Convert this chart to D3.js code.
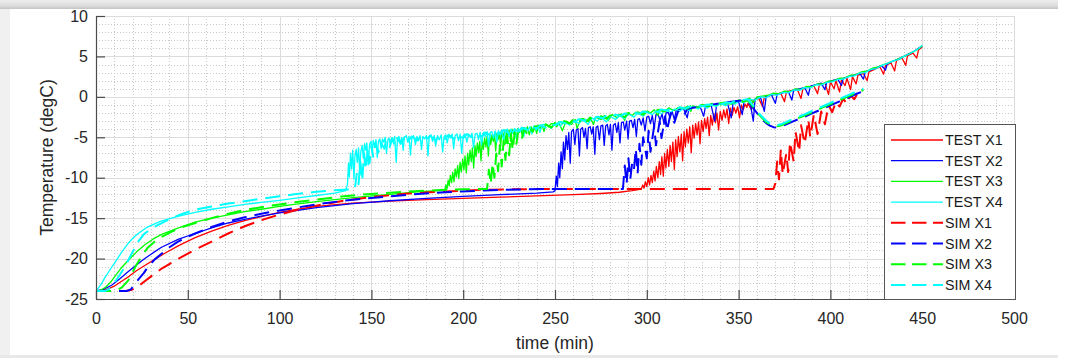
<!DOCTYPE html>
<html><head><meta charset="utf-8">
<script src="https://cdn.jsdelivr.net/npm/d3@7"></script>
<style>body{margin:0;background:#fff;overflow:hidden}svg{display:block;font-family:"Liberation Sans",Arial,Helvetica,sans-serif}</style>
</head><body>
<svg id="chart" width="1070" height="358"></svg>
<script>
// ---------------- DATA ----------------
const xTickValues = [0,50,100,150,200,250,300,350,400,450,500];
const yTickValues = [-25,-20,-15,-10,-5,0,5,10];
const seriesNames = ["TEST X1","TEST X2","TEST X3","TEST X4","SIM X1","SIM X2","SIM X3","SIM X4"];
const xLabel = "time (min)";
const yLabel = "Temperature (degC)";

const testX1 = [[0,-24],[3,-23.95],[6,-23.8],[10,-23.4],[14,-22.8],[18,-22.2],[22,-21.5],[27,-20.8],[32,-20.1],[37,-19.4],[45,-18.4],[54,-17.4],[63,-16.6],[72,-15.9],[81,-15.3],[90,-14.8],[100,-14.3],[110,-13.9],[120,-13.55],[140,-13.15],[160,-12.9],[180,-12.7],[200,-12.55],[220,-12.4],[240,-12.25],[260,-12.1],[275,-11.95],[285,-11.8],[292,-11.6],[296,-11.45],
[297,-11.4],[297.8,-10.9],[298.5,-11.3],[299.2,-10.5],[300,-11.1],[300.8,-10.0],[301.5,-10.9],[302.3,-9.7],[303,-10.6],[303.8,-9.2],[304.5,-10.4],[305.2,-8.6],[306,-10.0],[306.8,-8.0],[307.5,-9.6],[308.2,-7.4],[309,-9.8],[309.7,-7.0],[310.4,-8.8],[311.2,-6.5],[312,-8.6],[312.7,-6.0],[313.4,-8.0],[314.2,-5.6],[315,-9.0],[315.7,-5.3],[316.5,-7.4],[317.2,-4.9],[318,-6.8],[318.8,-4.6],[319.5,-7.9],[320.3,-4.3],[321,-6.2],[321.8,-4.0],[322.6,-5.7],[323.4,-3.7],[324.2,-6.9],[325,-3.5],[325.8,-5.1],[326.6,-3.3],[327.4,-4.7],[328.2,-3.1],[329,-5.8],[329.8,-2.9],[330.7,-4.3],[331.5,-2.7],[332.3,-3.9],[333.1,-2.5],[334,-4.8],[334.8,-2.3],[335.7,-3.5],[336.5,-2.1],[337.4,-3.2],[338.2,-2.0],[339.1,-4.1],[340,-1.8],[341,-2.9],[341.9,-1.6],[342.8,-2.6],[343.7,-1.5],[344.6,-3.3],[345.5,-1.4],[346.5,-2.3],[347.5,-1.3],[348.5,-2.0],[349.5,-1.2],[350.5,-2.6],[351.5,-1.0],[352.5,-1.6],[353.5,-0.9],[354.5,-1.3],[355,-0.8],
[357,-1.6],[358,-0.4],[361,-0.2],[363,-1.2],[364,-0.05],[367,0.15],[370,0.3],[373,0.45],[375,-0.6],[376,0.6],[379,0.8],[382,0.9],[384,-0.2],[385,1.0],[388,1.2],[391,1.35],[393,0.4],[394,1.5],[397,1.7],[399,0.3],[400,1.85],[402,1.0],[403,2.0],[405,0.6],[406,2.1],[408,1.4],[409,2.3],[411,0.9],[412,2.5],[414,1.6],[415,2.7],[418,2.9],[420,2.0],[421,3.1],[424,3.4],[427,3.7],[429,2.8],[430,3.9],[433,4.2],[435,3.2],[436,4.5],[439,4.8],[441,3.9],[442,5.1],[445,5.4],[447,4.8],[448,5.8],[450,6.2]];

const testX2 = [[0,-24],[4,-23.8],[8.5,-23.3],[13,-22.5],[17.6,-21.6],[22,-20.8],[26.6,-20.0],[31,-19.3],[35.7,-18.6],[45,-17.6],[54,-16.9],[63,-16.2],[72,-15.6],[81,-15.15],[90,-14.75],[100,-14.35],[108,-14.1],[120,-13.7],[140,-13.2],[160,-12.85],[180,-12.55],[200,-12.3],[220,-12.1],[240,-11.9],[249,-11.75],
[250,-11.6],[250.7,-9.8],[251.3,-11.1],[252,-8.2],[252.6,-10.0],[253.3,-6.8],[254,-8.9],[254.6,-5.6],[255.3,-7.8],[256,-4.8],[256.8,-6.5],[257.5,-4.4],[258.3,-8.2],[259,-4.3],[260,-4.0],[260.8,-5.9],[261.6,-4.1],[262.5,-3.9],[263.3,-7.3],[264,-4.0],[265,-3.8],[265.8,-5.0],[266.6,-3.9],[267.5,-6.4],[268.2,-3.8],[269.2,-3.7],[270,-4.6],[270.8,-3.7],[271.7,-7.1],[272.4,-3.8],[273.3,-3.6],[274.2,-5.3],[275,-3.6],[276,-3.5],[276.8,-6.0],[277.6,-3.6],[278.5,-3.4],[279.4,-4.7],[280.2,-3.4],[281,-6.6],[281.8,-3.5],[282.8,-3.3],[283.7,-4.4],[284.5,-3.2],[285.4,-5.7],[286.2,-3.2],[287.2,-3.1],[288,-4.1],[289,-3.0],[289.8,-5.2],[290.6,-3.0],[291.6,-2.9],[292.5,-3.8],[293.4,-2.8],[294.3,-4.9],[295.1,-2.8],[296,-2.7],[297,-3.5],[298,-2.6],[299,-4.2],[300,-2.5],[301,-2.4],[302,-3.3],[303,-2.3],[304,-3.9],[305,-2.2],[306.2,-2.2],[307.2,-2.9],[308.3,-2.1],[309.4,-3.4],[310.5,-2.0],[311.6,-1.9],[312.7,-2.6],[313.8,-1.8],[315,-2.8],[316,-1.7],
[318,-1.55],[320,-1.45],[322,-2.6],[323,-1.4],[326,-1.3],[329,-1.2],[331,-2.4],[332,-1.1],[335,-1.0],[337,-3.0],[338,-0.95],[341,-0.85],[344,-0.8],[346,-2.6],[347,-0.7],[350,-0.6],[352,-2.2],[353,-0.5],[356,-0.35],[358,-3.0],[359,-0.25],[362,-0.1],[364,-1.8],[365,0.05],[368,0.2],[370,-0.8],[371,0.3],[374,0.5],[377,0.7],[379,-0.4],[380,0.85],[383,1.0],[386,1.15],[388,0.2],[389,1.3],[392,1.5],[395,1.7],[397,0.9],[398,1.8],[401,2.0],[404,2.2],[406,1.4],[407,2.3],[410,2.5],[413,2.7],[416,2.9],[418,2.2],[419,3.1],[422,3.35],[425,3.6],[428,3.85],[430,3.3],[431,4.1],[434,4.4],[437,4.7],[440,5.0],[443,5.35],[446,5.7],[450,6.3]];

const testX3 = [[0,-24],[2,-23.95],[5,-23.6],[8,-22.9],[10.3,-22.2],[14,-21.1],[17.6,-20.2],[22,-19.2],[26.6,-18.3],[31,-17.6],[35.7,-17.0],[45,-16.2],[54,-15.5],[63,-15.0],[72,-14.6],[81,-14.2],[90,-13.9],[100,-13.55],[108,-13.3],[120,-12.95],[140,-12.45],[160,-12.05],[175,-11.75],[189,-11.55],
[190,-11.6],[190.6,-10.9],[191.2,-11.4],[191.8,-10.3],[192.4,-11.0],[193,-9.7],[193.7,-10.6],[194.3,-9.3],[195,-10.5],[195.6,-8.9],[196.3,-9.9],[197,-8.5],[197.6,-10.1],[198.3,-8.1],[199,-9.3],[199.7,-7.7],[200.4,-9.0],[201,-7.3],[201.7,-9.4],[202.4,-7.0],[203,-8.4],[203.7,-6.6],[204.4,-8.0],[205,-6.3],[205.7,-8.8],[206.4,-6.0],[207,-7.4],[207.7,-5.7],[208.4,-6.9],[209,-5.5],[209.7,-7.9],[210.4,-5.3],[211,-6.5],[211.7,-5.1],[212.4,-6.2],[213,-4.9],[213.7,-7.3],[214.4,-4.8],[215,-5.9],[215.7,-4.7],[216.4,-5.5],[217,-4.6],[217.7,-6.7],[218.4,-4.5],[219,-5.3],[219.7,-4.4],[220.4,-6.1],[221,-4.4],[221.7,-5.0],[222.4,-4.3],[223,-5.8],[223.7,-4.2],[224.4,-4.8],[225,-4.1],[225.8,-5.5],[226.6,-4.0],[227.4,-4.6],[228.2,-4.0],[229,-5.2],[229.8,-3.9],[230.6,-4.4],[231.4,-3.9],[232.2,-4.9],[233,-3.8],[234,-4.3],[235,-3.7],[236,-4.7],[237,-3.7],[238,-4.1],[239,-3.6],[240,-4.5],[241,-3.5],[242,-3.9],[243,-3.5],[244,-4.3],[245,-3.4],[246.5,-3.7],[248,-3.3],
[249,-3.3],[251,-3.7],[252,-3.1],[254,-4.2],[256,-3.0],[259,-3.4],[261,-2.8],[262,-3.9],[264,-2.7],[267,-3.1],[269,-2.5],[271,-3.4],[272,-2.5],[275,-2.8],[277,-2.3],[279,-2.9],[281,-2.2],[284,-2.6],[286,-2.1],[288,-2.9],[289,-2.0],[292,-2.3],[294,-1.9],[297,-2.2],[299,-1.75],[302,-2.0],[304,-1.6],[306,-2.3],[307,-1.55],[310,-1.8],[312,-1.4],[315,-1.7],[317,-1.3],[320,-1.5],[322,-1.15],[324,-1.8],[325,-1.1],[328,-1.3],[330,-0.95],[333,-1.2],[335,-0.85],[338,-1.1],[340,-0.7],[343,-0.9],[345,-0.6],[348,-0.8],[350,-0.4],[353,-0.5],[356,-0.15],[358,-0.7],[360,0.0],[363,0.1],[366,0.2],[369,0.45],[372,0.4],[375,0.7],[378,0.65],[381,1.0],[384,0.9],[387,1.3],[390,1.25],[393,1.6],[396,1.6],[399,1.95],[402,2.0],[405,2.3],[408,2.35],[411,2.7],[414,2.75],[417,3.1],[420,3.2],[423,3.55],[426,3.7],[429,4.0],[432,4.25],[435,4.5],[438,4.8],[441,5.1],[444,5.45],[447,5.8],[450,6.3]];

const testX4 = [[0,-24],[1.5,-23.6],[3,-23.1],[5,-22.3],[7,-21.6],[10,-20.6],[14,-19.2],[17.6,-18.1],[20,-17.5],[23,-16.9],[28,-16.1],[35,-15.4],[44,-14.8],[54,-14.3],[63,-13.9],[72,-13.6],[81,-13.3],[90,-13.05],[100,-12.8],[110,-12.5],[120,-12.2],[130,-11.9],[136,-11.6],
[137,-10.8],[137.5,-8.2],[138,-9.9],[138.6,-7.0],[139.2,-8.9],[139.8,-6.6],[140.5,-10.2],[141,-7.4],[141.7,-6.5],[142.3,-8.1],[143,-6.3],[143.6,-9.3],[144.2,-6.8],[145,-6.0],[145.6,-7.6],[146.3,-5.8],[147,-6.6],[147.5,-5.7],[148.3,-8.4],[149,-5.9],[149.8,-5.5],[150.4,-6.9],[151,-5.4],[151.8,-6.1],[152.5,-5.3],[153.2,-7.5],[153.8,-5.5],[154.6,-5.2],[155.3,-6.4],[156,-5.2],[156.8,-5.6],[157.5,-5.0],[158.2,-7.0],[159,-5.3],[159.6,-5.1],[160.4,-6.0],[161.2,-5.0],[162,-5.5],[162.7,-4.9],[163.5,-8.1],[164.2,-5.2],[165,-4.9],[165.8,-5.8],[166.5,-5.0],[167.3,-6.6],[168,-5.0],[169,-4.8],[169.8,-5.6],[170.5,-4.9],[171.3,-7.2],[172,-5.1],[173,-4.8],[174,-5.9],[174.8,-4.9],[175.7,-5.4],[176.5,-4.8],[177.3,-6.5],[178,-4.9],[179,-5.2],[180,-4.8],[180.8,-7.3],[181.5,-5.0],[182.5,-4.7],[183.3,-5.5],[184.2,-4.8],[185,-6.1],[186,-4.8],[187,-5.3],[188,-4.7],[188.8,-6.8],[189.6,-4.9],[190.5,-4.7],[191.3,-5.7],[192.2,-4.7],[193,-5.1],[194,-4.6],[194.8,-6.4],[195.6,-4.8],[196.6,-4.6],[197.4,-5.4],[198.3,-4.6],[199.2,-7.0],[200,-4.8],[201,-4.6],[202,-5.6],[203,-4.6],[204,-5.0],[204.8,-4.5],[205.6,-6.3],[206.5,-4.6],[207.5,-4.5],[208.3,-5.3],[209.2,-4.4],[210,-5.9],[211,-4.4],[212,-4.9],[213,-4.3],[213.8,-6.1],[214.7,-4.4],[215.6,-4.3],[216.5,-5.1],[217.4,-4.2],[218.3,-5.6],[219.2,-4.2],[220.2,-4.7],[221,-4.1],[222,-5.4],[223,-4.1],[224,-4.0],[225,-4.9],[226,-4.0],[227,-4.5],[228,-3.9],[229,-5.2],[230,-3.9],[231,-4.3],[232,-3.8],[233,-4.9],[234,-3.8],[235.2,-4.2],[236.3,-3.7],[237.4,-4.6],[238.5,-3.6],[239.6,-4.1],[240.7,-3.6],[241.8,-4.4],[243,-3.5],[244,-3.4],
[246,-3.5],[248,-3.9],[250,-3.2],[253,-3.6],[255,-3.0],[258,-3.5],[260,-2.9],[263,-3.3],[265,-2.8],[268,-3.4],[270,-2.6],[273,-3.0],[275,-2.5],[278,-3.1],[280,-2.4],[283,-2.8],[285,-2.3],[288,-2.7],[290,-2.1],[293,-2.5],[295,-2.0],[298,-2.4],[300,-1.85],[303,-2.2],[305,-1.75],[308,-2.1],[310,-1.6],[313,-1.9],[315,-1.5],[318,-1.8],[320,-1.35],[323,-1.7],[325,-1.25],[328,-1.5],[330,-1.1],[333,-1.4],[335,-0.95],[338,-1.2],[340,-0.85],[343,-1.1],[345,-0.7],[348,-0.9],[350,-0.55],[353,-0.7],[356,-0.3],[359,-0.4],[362,0.0],[365,-0.1],[368,0.3],[371,0.2],[374,0.55],[377,0.5],[380,0.85],[383,0.8],[386,1.15],[389,1.1],[392,1.5],[395,1.45],[398,1.8],[401,1.85],[404,2.15],[407,2.2],[410,2.5],[413,2.6],[416,2.95],[419,3.0],[422,3.4],[425,3.5],[428,3.9],[431,4.1],[434,4.45],[437,4.6],[440,5.0],[443,5.3],[446,5.7],[448,5.95],[450,6.4]];

const simX1 = [[0,-24],[10,-24],[16,-24],[19,-23.9],[22,-23.6],[26,-22.9],[30,-22.2],[36,-21.2],[45,-20.0],[54,-18.9],[63,-17.9],[72,-16.9],[81,-16.0],[90,-15.25],[100,-14.55],[110,-13.95],[120,-13.45],[135,-12.85],[150,-12.4],[170,-11.95],[190,-11.7],[210,-11.5],[230,-11.42],[250,-11.4],[369,-11.4],
[370,-10.7],[371,-8.0],[372,-10.2],[373,-6.5],[374,-9.6],[376,-7.0],[377,-9.3],[378,-5.6],[380,-8.0],[381,-4.3],[383,-6.8],[384,-3.5],[386,-5.8],[388,-2.8],[389,-5.0],[391,-2.2],[393,-4.6],[395,-1.8],[397,-3.4],[399,-1.0],[401,-1.9],[403,-0.6],[405,-1.2],[407,-0.2],[409,-0.9],[411,0.2],[413,-0.3],[415,0.5],[417,0.6]];

const simX2 = [[0,-24],[10,-24],[17,-24],[19,-23.8],[21,-23.2],[23,-22.6],[26,-21.8],[28.4,-21.0],[32,-20.1],[35.7,-19.4],[40,-18.6],[44.7,-17.9],[50,-17.3],[54,-16.9],[63,-16.1],[72,-15.4],[81,-14.9],[90,-14.45],[100,-14.05],[108,-13.75],[120,-13.3],[135,-12.85],[150,-12.5],[170,-12.1],[190,-11.8],[210,-11.6],[230,-11.45],[245,-11.4],[287,-11.4],
[288,-8.5],[289,-10.8],[290,-7.6],[291,-10.2],[292,-8.2],[293,-9.0],[294,-6.4],[295,-9.5],[296,-5.8],[297,-8.4],[298,-5.0],[300,-7.6],[301,-4.2],[302,-6.8],[304,-3.6],[305,-6.0],[307,-3.0],[308,-5.1],[310,-2.4],[311,-4.2],[313,-2.0],[315,-3.2],[317,-1.8],[320,-2.4],[322,-1.5],
[325,-1.35],[328,-1.25],[331,-1.1],[334,-1.0],[337,-0.9],[340,-0.8],[343,-0.7],[346,-0.6],[349,-0.5],[352,-0.45],[355,-0.6],[357,-1.1],[359,-1.7],[361,-2.3],[363,-2.8],[365,-3.25],[367,-3.55],[369,-3.75],[371,-3.8],[373,-3.7],[376,-3.4],[380,-3.0],[385,-2.55],[390,-2.05],[395,-1.55],[400,-1.05],[405,-0.55],[410,-0.05],[414,0.35],[418,0.7]];

const simX3 = [[0,-24],[8,-24],[11,-23.95],[14,-23.6],[17.6,-22.7],[21,-21.2],[24.8,-19.7],[28,-18.7],[32,-17.9],[36,-17.3],[41,-16.7],[47,-16.1],[54,-15.6],[63,-15.0],[72,-14.45],[81,-14.0],[90,-13.65],[100,-13.3],[108,-13.05],[120,-12.7],[135,-12.3],[150,-12.0],[170,-11.7],[190,-11.5],[200,-11.42],[213,-11.4],
[214,-9.0],[215,-10.8],[216,-8.2],[217,-10.0],[218,-7.0],[219,-9.2],[220,-6.0],[221,-8.6],[222,-5.4],[223,-7.8],[224,-4.9],[225,-7.2],[226,-4.6],[227,-6.6],[228,-4.4],[229,-5.8],[230,-4.2],[232,-5.2],[233,-4.0],[235,-4.6],[236,-3.9],[238,-4.3],[239,-3.7],
[241,-3.6],[243,-4.1],[245,-3.4],[248,-3.8],[250,-3.2],[253,-3.6],[255,-3.0],[258,-3.3],[260,-2.8],[263,-3.2],[265,-2.7],[268,-3.0],[270,-2.5],[273,-2.8],[275,-2.4],[278,-2.7],[280,-2.3],[283,-2.6],[285,-2.2],[288,-2.5],[290,-2.0],[293,-2.3],[295,-1.9],[298,-2.2],[300,-1.8],[304,-2.0],[306,-1.6],[310,-1.8],[312,-1.45],[316,-1.6],[318,-1.3],[322,-1.45],[324,-1.15],[328,-1.3],[330,-1.0],[334,-1.15],[336,-0.85],[340,-1.0],[342,-0.7],[346,-0.85],[348,-0.55],[352,-0.6],[355,-0.45],
[357,-0.95],[359,-1.55],[361,-2.15],[363,-2.65],[365,-3.1],[367,-3.4],[369,-3.6],[371,-3.65],[373,-3.55],[376,-3.25],[380,-2.85],[385,-2.4],[390,-1.9],[395,-1.4],[400,-0.9],[405,-0.4],[410,0.1],[414,0.5],[418,0.85]];

const simX4 = [[0,-24],[5,-24],[7,-23.8],[10.3,-22.9],[13,-22.0],[15.8,-21.0],[19.4,-19.4],[23,-17.9],[26,-17.0],[30,-16.3],[35,-15.7],[39.3,-15.2],[46.5,-14.5],[54,-13.95],[63,-13.55],[72,-13.2],[81,-12.9],[90,-12.6],[100,-12.3],[108,-12.05],[120,-11.75],[130,-11.55],[141,-11.4],
[142,-9.5],[143,-10.8],[144,-8.0],[145,-10.4],[146,-7.0],[147,-9.0],[148,-6.4],[149,-8.2],[150,-6.0],[151,-7.4],[152,-5.8],[154,-6.8],[155,-5.6],[157,-6.4],[158,-5.4],[160,-6.2],[161,-5.2],[163,-6.0],
[164,-5.1],[166,-5.8],[168,-5.0],[170,-5.5],[172,-4.9],[175,-5.4],[177,-4.9],[180,-5.3],[182,-4.8],[185,-5.4],[187,-4.8],[190,-5.2],[192,-4.7],[195,-5.2],[197,-4.7],[200,-5.1],[202,-4.6],[205,-5.0],[207,-4.5],[210,-4.9],[212,-4.4],[215,-4.8],[217,-4.3],[220,-4.6],[222,-4.1],[225,-4.5],[227,-3.95],[230,-4.3],[232,-3.8],[235,-4.1],[237,-3.7],[240,-3.9],[242,-3.5],[245,-3.8],[247,-3.3],[250,-3.5],[253,-3.1],[256,-3.3],[258,-2.9],[261,-3.1],[263,-2.75],[266,-2.95],[268,-2.6],[271,-2.8],[273,-2.45],[276,-2.65],[278,-2.3],[281,-2.5],[283,-2.2],[286,-2.35],[288,-2.05],[291,-2.25],[293,-1.95],[296,-2.1],[298,-1.8],[301,-1.95],[303,-1.7],[306,-1.85],[308,-1.55],[311,-1.7],[313,-1.45],[316,-1.55],[318,-1.3],[321,-1.45],[323,-1.2],[326,-1.3],[328,-1.05],[331,-1.15],[333,-0.95],[336,-1.05],[338,-0.8],[341,-0.9],[343,-0.7],[346,-0.75],[348,-0.5],[351,-0.55],[353,-0.35],[355,-0.3],
[357,-0.8],[359,-1.4],[361,-2.0],[363,-2.5],[365,-2.95],[367,-3.25],[369,-3.45],[371,-3.5],[373,-3.4],[376,-3.1],[380,-2.7],[385,-2.25],[390,-1.75],[395,-1.25],[400,-0.75],[405,-0.25],[410,0.25],[414,0.65],[418,1.0]];

const seriesData = [testX1, testX2, testX3, testX4, simX1, simX2, simX3, simX4];

// ---------------- STYLE ----------------
const colors = ["#ff0000","#0000ff","#00ff00","#00ffff","#ff0000","#0000ff","#00ff00","#00ffff"];
const dashed = [false,false,false,false,true,true,true,true];

const W = 1070, H = 358;
const L = 96, R = 1014, T = 16, B = 299;

const svg = d3.select("#chart");

const defs = svg.append("defs");
const g1 = defs.append("linearGradient").attr("id","topShade").attr("x1",0).attr("y1",0).attr("x2",0).attr("y2",1);
g1.append("stop").attr("offset","0%").attr("stop-color","#ededed");
g1.append("stop").attr("offset","60%").attr("stop-color","#dedede");
g1.append("stop").attr("offset","100%").attr("stop-color","#c4c4c4");
defs.append("clipPath").attr("id","plotClip").append("rect").attr("x",L).attr("y",T-2).attr("width",R-L+2).attr("height",B-T+3);

svg.append("rect").attr("x",0).attr("y",0).attr("width",W).attr("height",H).attr("fill","#ffffff");
svg.append("rect").attr("x",0).attr("y",9).attr("width",10).attr("height",H-9).attr("fill","#f0f0f0");
svg.append("rect").attr("x",0).attr("y",355).attr("width",1058).attr("height",3).attr("fill","#e8e8e8");

const x = d3.scaleLinear().domain([0,500]).range([L,R]);
const y = d3.scaleLinear().domain([-25,10]).range([B,T]);

// minor grid
const gMinor = svg.append("g");
gMinor.selectAll("line.mx").data(d3.range(0,501,10).filter(v=>v%50!==0)).join("line")
  .attr("x1",d=>Math.round(x(d))+0.5).attr("x2",d=>Math.round(x(d))+0.5).attr("y1",T).attr("y2",B)
  .attr("stroke","#c9c9c9").attr("stroke-width",1).attr("stroke-dasharray","1,2");
gMinor.selectAll("line.my").data(d3.range(-25,11,1).filter(v=>v%5!==0)).join("line")
  .attr("y1",d=>Math.round(y(d))+0.5).attr("y2",d=>Math.round(y(d))+0.5).attr("x1",L).attr("x2",R)
  .attr("stroke","#c9c9c9").attr("stroke-width",1).attr("stroke-dasharray","1,2");
// major grid
const gMajor = svg.append("g");
gMajor.selectAll("line.gx").data(xTickValues).join("line")
  .attr("x1",d=>Math.round(x(d))+0.5).attr("x2",d=>Math.round(x(d))+0.5).attr("y1",T).attr("y2",B)
  .attr("stroke","#dcdcdc").attr("stroke-width",1);
gMajor.selectAll("line.gy").data(yTickValues).join("line")
  .attr("y1",d=>Math.round(y(d))+0.5).attr("y2",d=>Math.round(y(d))+0.5).attr("x1",L).attr("x2",R)
  .attr("stroke","#dcdcdc").attr("stroke-width",1);

// series
const line = d3.line().x(d=>x(d[0])).y(d=>y(d[1]));
const gLines = svg.append("g").attr("clip-path","url(#plotClip)");
seriesData.forEach((s,i)=>{
  gLines.append("path").attr("d",line(s)).attr("fill","none")
    .attr("stroke",colors[i]).attr("stroke-width",dashed[i]?2:1.3)
    .attr("stroke-dasharray",dashed[i]?"15,8":null)
    .attr("stroke-linejoin","round");
});

// axes
const axisColor = "#4a4a4a";
const fmt = d => String(d);
const xAxis = d3.axisBottom(x).tickValues(xTickValues).tickFormat(fmt).tickSizeInner(-9).tickSizeOuter(0).tickPadding(14);
const yAxis = d3.axisLeft(y).tickValues(yTickValues).tickFormat(fmt).tickSizeInner(-9).tickSizeOuter(0).tickPadding(8);
const gx = svg.append("g").attr("transform",`translate(0,${B})`).call(xAxis);
const gy = svg.append("g").attr("transform",`translate(${L},0)`).call(yAxis);
[gx,gy].forEach(g=>{
  g.select(".domain").attr("stroke",axisColor).attr("stroke-width",1.2);
  g.selectAll(".tick line").attr("stroke",axisColor).attr("stroke-width",1.2);
  g.selectAll(".tick text").attr("fill","#262626").attr("font-size",16).attr("font-family","Liberation Sans, Arial, sans-serif");
});

svg.append("text").attr("x",(L+R)/2).attr("y",349).attr("text-anchor","middle")
  .attr("font-size",17.5).attr("fill","#262626").text(xLabel);
svg.append("text").attr("transform",`translate(53,${(T+B)/2}) rotate(-90)`).attr("text-anchor","middle")
  .attr("font-size",17.5).attr("fill","#262626").text(yLabel);

// legend
const lg = svg.append("g");
const lx = 884, ly = 124, lw = 131, lh = 175;
lg.append("rect").attr("x",lx+0.5).attr("y",ly+0.5).attr("width",lw).attr("height",lh)
  .attr("fill","#ffffff").attr("stroke","#555555").attr("stroke-width",1);
seriesNames.forEach((n,i)=>{
  const yy = ly + 16 + i*20.7;
  lg.append("line").attr("x1",lx+7).attr("x2",lx+59).attr("y1",yy).attr("y2",yy)
    .attr("stroke",colors[i]).attr("stroke-width",dashed[i]?2:1.3)
    .attr("stroke-dasharray",dashed[i]?"14.5,6.5":null);
  lg.append("text").attr("x",lx+61).attr("y",yy+5).attr("font-size",14.3).attr("fill","#1a1a1a").text(n);
});

// top toolbar shadow
svg.append("rect").attr("x",0).attr("y",0).attr("width",1058).attr("height",9).attr("fill","url(#topShade)");
</script>
</body></html>
